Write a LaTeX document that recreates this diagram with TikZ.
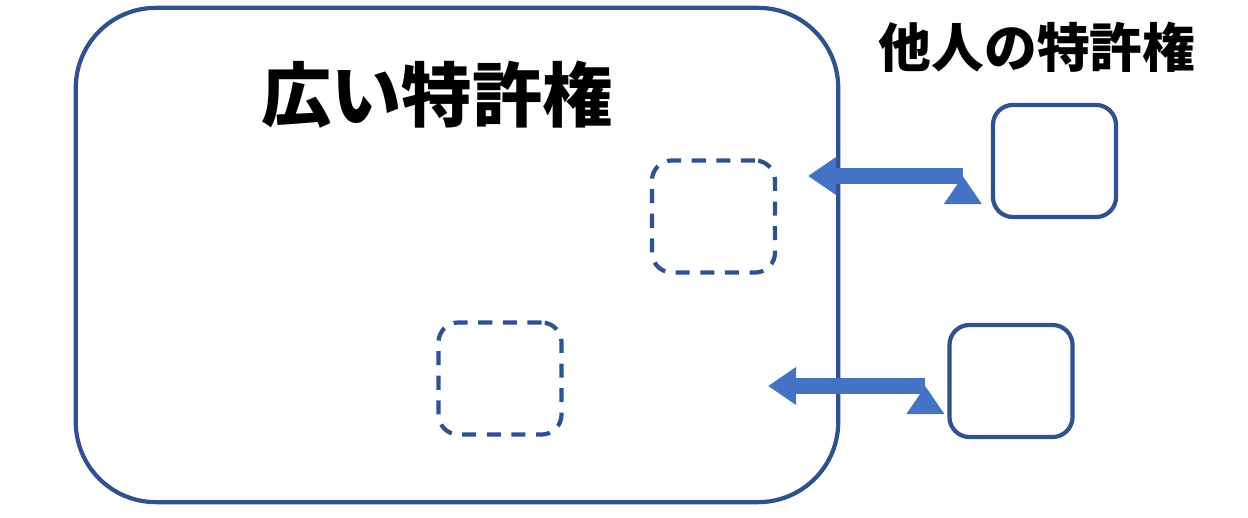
\documentclass[tikz,border=0pt]{standalone}
\usepackage{fontspec}
\newfontfamily\cjk{Noto Sans CJK JP}
\usetikzlibrary{arrows.meta}
\definecolor{edge}{HTML}{2F528F}
\definecolor{fill}{HTML}{4472C4}
\begin{document}
\begin{tikzpicture}[x=0.01cm, y=-0.01cm, semithick,
  box/.style={draw=edge, line width=1.2pt, rounded corners=0.2cm, minimum width=1.23cm, minimum height=1.12cm},
  dbox/.style={box, dashed, dash pattern=on 4pt off 3pt},
  push/.style={draw=fill, line width=0.16cm, -{Triangle[length=0.28cm,width=0.36cm]}}]
  \useasboundingbox (0,0) rectangle (1248,518);
  \node[draw=edge, line width=1.2pt, rounded corners=0.8cm, minimum width=7.62cm, minimum height=4.94cm] (wide) at (457,255) {};
  \node[font=\cjk\bfseries\fontsize{20}{24}\selectfont] (title) at (437,95) {広い特許権};
  \node[font=\cjk\bfseries\fontsize{15}{18}\selectfont] (other) at (1037,47) {他人の特許権};
  \node[dbox] (d1) at (713.5,216.5) {};
  \node[dbox] (d2) at (500,378.5) {};
  \node[box] (o1) at (1054.5,161) {};
  \node[box] (o2) at (1011,381) {};
  \coordinate (t1) at (808,176);
  \coordinate (t2) at (768,386);
  \draw[push] (o1.west |- t1) ++(-28,0) coordinate (s1);
  \draw[push] (s1) -- (t1);
  \draw[push] (o2.west |- t2) ++(-22,0) coordinate (s2);
  \draw[push] (s2) -- (t2);
\end{tikzpicture}
\end{document}
